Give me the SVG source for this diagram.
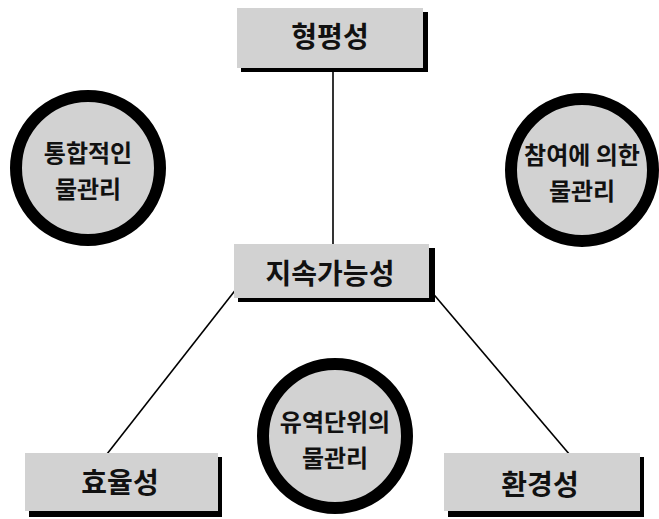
<svg xmlns="http://www.w3.org/2000/svg" width="659" height="519" viewBox="0 0 659 519">
<style>
.bg{fill:#ffffff}
.box{fill:#d2d2d2}
.shadow{fill:#000000}
.circ{fill:#d2d2d2;stroke:#000000;stroke-width:12}
.lbl{font-family:"Noto Sans CJK KR","Noto Sans",sans-serif;font-size:28px;font-weight:bold;fill:#111111;text-anchor:middle;dominant-baseline:central}
.clbl{font-family:"Noto Sans CJK KR","Noto Sans",sans-serif;font-size:24px;font-weight:bold;fill:#111111;text-anchor:middle;dominant-baseline:central}
.conn{stroke:#000000;stroke-width:1.6;fill:none}
</style>
<rect class="bg" x="0" y="0" width="659" height="519"/>
<g id="connectors">
<line class="conn" x1="333" y1="72" x2="333" y2="246"/>
<line class="conn" x1="237" y1="288" x2="107" y2="454"/>
<line class="conn" x1="430" y1="290" x2="570" y2="455"/>
</g>
<g id="node-equity">
<rect class="shadow" x="241" y="12" width="187" height="60"/>
<rect class="box" x="237" y="8" width="186" height="60"/>
<text class="lbl" x="330" y="35">형평성</text>
</g>
<g id="node-integrated">
<circle class="circ" cx="88" cy="168" r="72"/>
<text class="clbl" x="88" y="151">통합적인</text>
<text class="clbl" x="88" y="187">물관리</text>
</g>
<g id="node-participation">
<circle class="circ" cx="582" cy="170" r="71"/>
<text class="clbl" x="582" y="153">참여에 의한</text>
<text class="clbl" x="582" y="189">물관리</text>
</g>
<g id="node-sustainability">
<rect class="shadow" x="238" y="248" width="197" height="54"/>
<rect class="box" x="234" y="244" width="195" height="54"/>
<text class="lbl" x="330" y="272">지속가능성</text>
</g>
<g id="node-efficiency">
<rect class="shadow" x="29" y="457" width="193" height="60"/>
<rect class="box" x="25" y="453" width="193" height="58"/>
<text class="lbl" x="120" y="481">효율성</text>
</g>
<g id="node-basin">
<circle class="circ" cx="335" cy="436" r="72"/>
<text class="clbl" x="335" y="420">유역단위의</text>
<text class="clbl" x="335" y="456">물관리</text>
</g>
<g id="node-environment">
<rect class="shadow" x="448" y="457" width="196" height="60"/>
<rect class="box" x="444" y="453" width="196" height="58"/>
<text class="lbl" x="540" y="483">환경성</text>
</g>
</svg>
